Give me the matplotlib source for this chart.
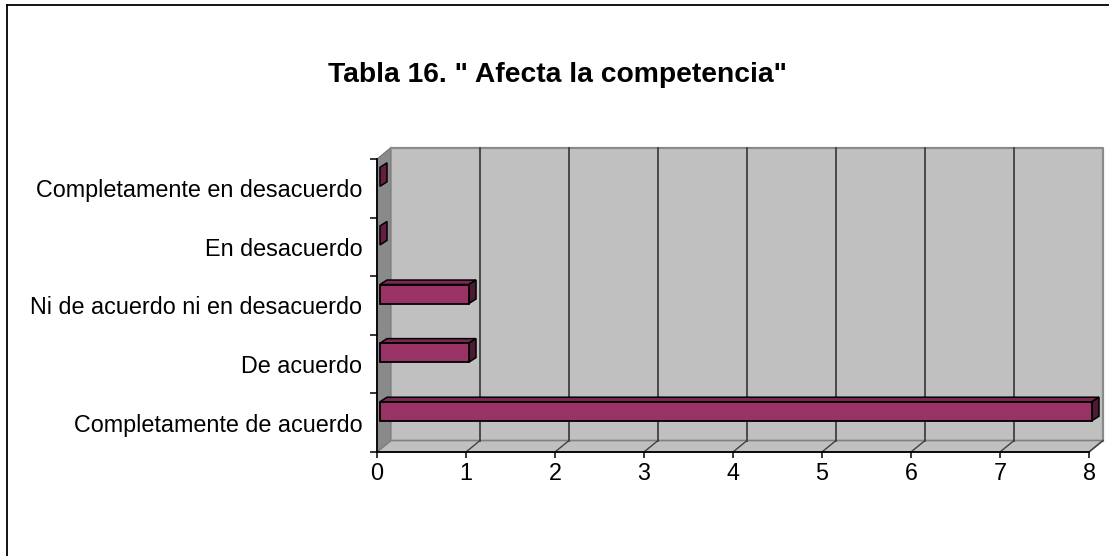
import matplotlib
matplotlib.use("Agg")
import matplotlib.pyplot as plt
from matplotlib.patches import Polygon
from matplotlib.lines import Line2D

plt.rcParams['font.family'] = ['Liberation Sans', 'DejaVu Sans']

title = 'Tabla 16. " Afecta la competencia"'
categories = ["Completamente de acuerdo", "De acuerdo", "Ni de acuerdo ni en desacuerdo",
              "En desacuerdo", "Completamente en desacuerdo"]
values = [8, 1, 1, 0, 0]
xticks = list(range(0, 9))

W, H = 1109, 556
fig = plt.figure(figsize=(W / 100, H / 100), dpi=100)

# front plane of the plot in pixels
px_l, px_r, py_t, py_b = 377, 1089, 159, 452
ax = fig.add_axes([px_l / W, 1 - py_b / H, (px_r - px_l) / W, (py_b - py_t) / H])
ax.set_xlim(0, 8)
ax.set_ylim(-0.5, 4.5)
ax.patch.set_visible(False)

ux = (px_r - px_l) / 8.0
uy = (py_b - py_t) / 5.0
DX, DY = 14 / ux, 11.5 / uy          # wall depth
BX, BY0 = 3 / ux, 0.034               # bar front offset
BH = 0.324                            # bar front height
ddx, ddy = 7 / ux, 4.5 / uy           # bar depth

x0, x1 = 0, 8
y0, y1 = -0.5, 4.5

# back wall
ax.add_patch(Polygon([(x0 + DX, y0 + DY), (x1 + DX, y0 + DY), (x1 + DX, y1 + DY), (x0 + DX, y1 + DY)],
                     closed=True, facecolor='#c0c0c0', edgecolor='none', zorder=1, clip_on=False))
# side wall
ax.add_patch(Polygon([(x0, y0), (x0 + DX, y0 + DY), (x0 + DX, y1 + DY), (x0, y1)],
                     closed=True, facecolor='#8a8a8a', edgecolor='#777777', lw=0.8, zorder=1.2, clip_on=False))
# floor
ax.add_patch(Polygon([(x0, y0), (x0 + DX, y0 + DY), (x1 + DX, y0 + DY), (x1, y0)],
                     closed=True, facecolor='#c0c0c0', edgecolor='#808080', lw=1.2, zorder=1.2, clip_on=False))
# wall border top and right
ax.add_line(Line2D([x0 + DX, x1 + DX, x1 + DX], [y1 + DY, y1 + DY, y0 + DY],
                   color='#8a8a8a', lw=1.6, zorder=1.3, clip_on=False))
# gridlines
for v in xticks[1:-1]:
    ax.add_line(Line2D([v + DX, v + DX], [y0 + DY, y1 + DY], color='#404040', lw=1.3, zorder=1.4, clip_on=False))
for v in xticks[1:]:
    ax.add_line(Line2D([v, v + DX], [y0, y0 + DY], color='#404040', lw=1.0, zorder=1.4, clip_on=False))

# bars
for k, v in enumerate(values):
    xa, xb = BX, v + BX
    yb, yt = k + BY0, k + BY0 + BH
    if v > 0:
        ax.add_patch(Polygon([(xa, yt), (xb, yt), (xb + ddx, yt + ddy), (xa + ddx, yt + ddy)],
                             closed=True, facecolor='#7a2850', edgecolor='black', lw=1.1, zorder=3, clip_on=False))
        ax.add_patch(Polygon([(xa, yb), (xb, yb), (xb, yt), (xa, yt)],
                             closed=True, facecolor='#993366', edgecolor='black', lw=1.3, zorder=3.2, clip_on=False))
    ax.add_patch(Polygon([(xb, yb), (xb, yt), (xb + ddx, yt + ddy), (xb + ddx, yb + ddy)],
                         closed=True, facecolor='#4d1a33' if v > 0 else '#661f42', edgecolor='black',
                         lw=1.1, zorder=3.1, clip_on=False))

# axes
for s in ['top', 'right']:
    ax.spines[s].set_visible(False)
for s in ['left', 'bottom']:
    ax.spines[s].set_color('black')
    ax.spines[s].set_linewidth(1.3)
    ax.spines[s].set_zorder(4)

ax.set_yticks(range(len(categories)))
ax.set_yticklabels(categories, fontsize=16.8)
ax.set_yticks([i - 0.5 for i in range(len(categories) + 1)], minor=True)
ax.tick_params(axis='y', which='major', length=0, pad=10.5)
ax.tick_params(axis='y', which='minor', length=5, width=1.1, color='black')
ax.set_xticks(xticks)
ax.set_xticklabels([str(t) for t in xticks], fontsize=16.8)
ax.tick_params(axis='x', which='major', length=4.5, width=1.1, pad=3, color='black')

fig.text(558 / W, 1 - 75 / H, title, ha='center', va='center', fontsize=20.3, fontweight='bold')

# outer frame
fig.add_artist(Line2D([7 / W, 7 / W], [0, 1 - 5 / H], color='black', lw=1.3, transform=fig.transFigure))
fig.add_artist(Line2D([7 / W, 1.0], [1 - 5 / H, 1 - 5 / H], color='black', lw=1.3, transform=fig.transFigure))

fig.savefig('out.png', dpi=100)
